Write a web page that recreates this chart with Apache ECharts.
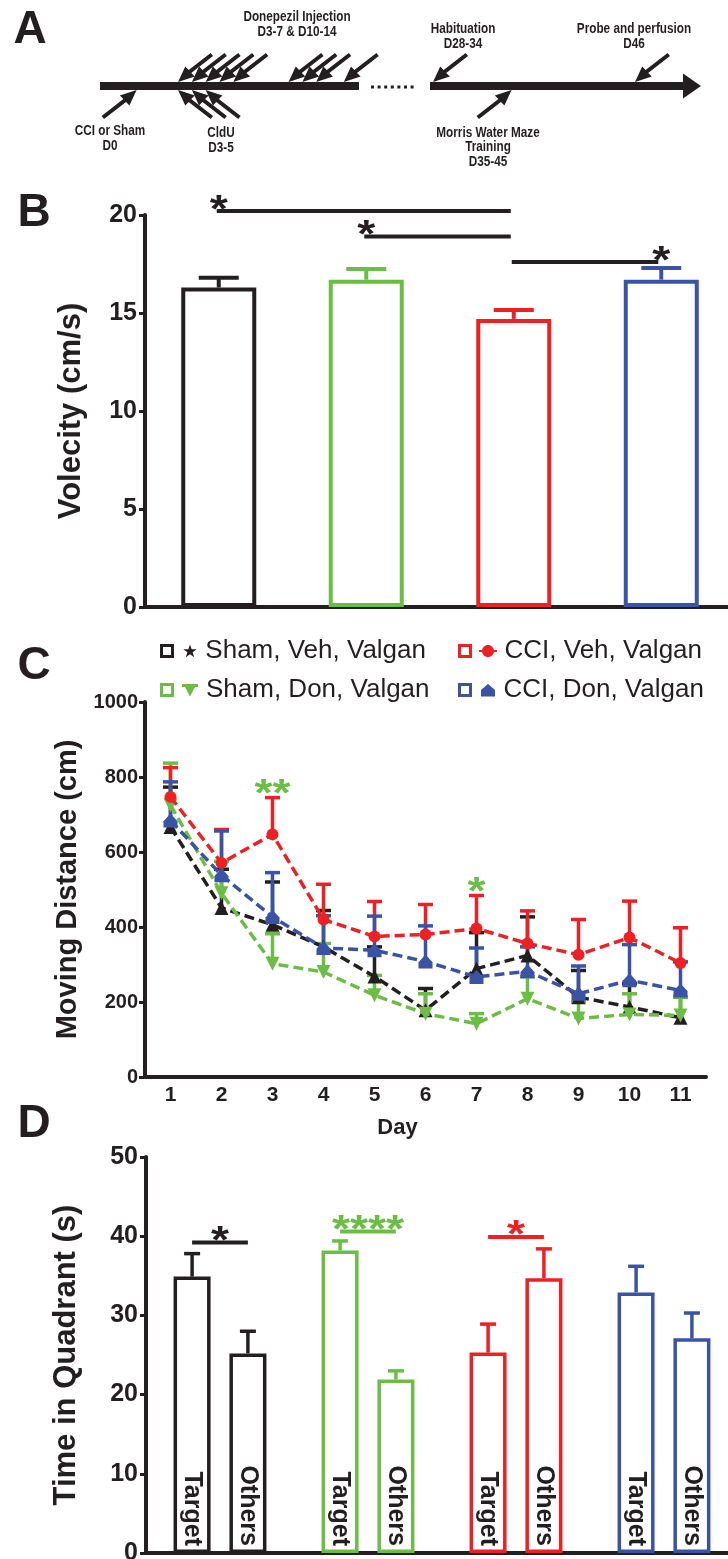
<!DOCTYPE html>
<html><head><meta charset="utf-8">
<script src="https://cdn.jsdelivr.net/npm/echarts/dist/echarts.min.js"></script>
<style>html,body{margin:0;padding:0;background:#fff}#c{width:728px;height:1559px}</style>
</head><body><div id="c"></div><script>
// ---------- DATA ----------
// Panel A: timeline events (days)
const injectionDays = [3, 4, 5, 6, 7, 11, 12, 13, 15];
const cldUDays = [3, 4, 5];
const surgeryDays = [0];
const habituationDays = [28];
const trainingDays = [35];
const probeDays = [46];

// Groups
const groups = ['Sham, Veh, Valgan', 'Sham, Don, Valgan', 'CCI, Veh, Valgan', 'CCI, Don, Valgan'];

// Panel B: velocity
const velocityMean = [16.3, 16.7, 14.7, 16.7];
const velocitySEM = [0.5, 0.55, 0.45, 0.6];
const sigB = [[0, 2, 20.2, 0], [1, 2, 18.9, 1], [2, 3, 17.6, 3]]; // from, to, y, star at

// Panel C: moving distance per day
const days = ['1', '2', '3', '4', '5', '6', '7', '8', '9', '10', '11'];
const shamVeh = [667, 451, 406, 347, 268, 178, 289, 324, 213, 187, 158];
const shamVehSEM = [106, 103, 114, 97, 79, 58, 96, 103, 71, 62, 55];
const shamDon = [725, 490, 302, 280, 218, 169, 142, 209, 156, 167, 164];
const shamDonSEM = [112, 85, 80, 76, 53, 53, 27, 58, 44, 55, 49];
const cciVeh = [747, 571, 647, 420, 375, 380, 396, 356, 326, 372, 304];
const cciVehSEM = [78, 89, 98, 94, 93, 80, 88, 87, 94, 97, 94];
const cciDon = [684, 538, 427, 344, 338, 308, 267, 282, 222, 258, 231];
const cciDonSEM = [103, 118, 118, 86, 91, 95, 77, 65, 74, 95, 76];
const sigCPos = [[2, 750], [6, 488]];
const sigCText = ['**', '*'];

// Panel D: time in quadrant
const quadrants = ['Target', 'Others'];
const targetTime = [34.9, 38.2, 25.3, 32.9];
const targetSEM = [2.9, 1.2, 3.6, 3.3];
const othersTime = [25.2, 21.9, 34.7, 27.1];
const othersSEM = [2.8, 1.1, 3.7, 3.2];
const sigDPos = [[0, 39.2], [1, 40.6], [2, 39.9]];
const sigDText = ['*', '****', '*'];

// ---------- STYLE ----------
const K = '#231f20';
const colors = ['#231f20', '#6cbd45', '#ed2024', '#3a53a4'];
const FF = "'Liberation Sans', Arial, Helvetica, sans-serif";

// arrow glyph (tip bottom-left), box 35 x 29
const arrowPts = [[0,29],[7.2,13.6],[10.6,17.0],[32.6,0],[35,2.9],[13.2,20.0],[16.8,23.6]];
function arrowPath(fx, fy) {
  return 'path://' + arrowPts.map((p, k) => (k ? 'L' : 'M') + (fx ? 35 - p[0] : p[0]).toFixed(2) + ',' + (fy ? 29 - p[1] : p[1]).toFixed(2)).join(' ') + ' Z';
}
const downLeft = arrowPath(false, false), upRight = arrowPath(true, true), upLeft = arrowPath(false, true);

function arrowSeries(daysArr, grid, sym, off) {
  return { type: 'scatter', xAxisIndex: grid, yAxisIndex: grid, data: daysArr.map(d => [d, 0]),
    symbol: sym, symbolSize: [35, 29], symbolOffset: off, itemStyle: { color: K, opacity: 1 }, silent: true, z: 5 };
}

const ring = 'M0,0 L14,0 L14,14 L0,14 Z M3,3 L3,11 L11,11 L11,3 Z ';
const icons = [
  'path://' + ring + 'M30,0.5 L31.65,5.23 L36.66,5.34 L32.66,8.37 L34.11,13.16 L30,10.3 L25.89,13.16 L27.34,8.37 L23.34,5.34 L28.35,5.23 Z',
  'path://' + ring + 'M22,1 L38,1 L38,4 L35,4 L30,13.5 L25,4 L22,4 Z',
  'path://' + ring + 'M36,7 C36,10.3 33.3,13 30,13 C26.7,13 24,10.3 24,7 C24,3.7 26.7,1 30,1 C33.3,1 36,3.7 36,7 Z M21,6 L39,6 L39,8 L21,8 Z',
  'path://' + ring + 'M30,1 L37,7 L37,13.5 L23,13.5 L23,7 Z'
];
const markerSyms = ['triangle', 'path://M0,0 L12,0 L6,11 Z', 'circle', 'path://M6,0 L12,6 L12,11 L0,11 L0,6 Z'];

function errRender(colorFn, capW, lw, dx) {
  return function (params, api) {
    const i = api.value(0), m = api.value(1), e = api.value(2);
    const p0 = api.coord([i, m]), p1 = api.coord([i, m + e]);
    const x = p0[0] + dx, c = colorFn(params.dataIndex);
    return { type: 'group', children: [
      { type: 'line', shape: { x1: x, y1: p0[1], x2: x, y2: p1[1] }, style: { stroke: c, lineWidth: lw } },
      { type: 'line', shape: { x1: x - capW / 2, y1: p1[1], x2: x + capW / 2, y2: p1[1] }, style: { stroke: c, lineWidth: lw } }
    ] };
  };
}
const starText = (x, y, t, c) => ({ type: 'text', x: x, y: y, scaleX: 1.22,
  style: { text: t, fill: c, fontSize: 38, fontWeight: 'bold', fontFamily: FF, align: 'center', verticalAlign: 'middle' } });

const series = [
  // Panel A
  arrowSeries(injectionDays, 0, downLeft, [17.5, -18.5]),
  arrowSeries(cldUDays, 0, upLeft, [17.5, 18.5]),
  arrowSeries(surgeryDays, 0, upRight, [-17.5, 18.5]),
  arrowSeries(habituationDays, 1, downLeft, [17.5, -18.5]),
  arrowSeries(trainingDays, 1, upRight, [-17.5, 18.5]),
  arrowSeries(probeDays, 1, downLeft, [17.5, -18.5]),
  // Panel B
  { type: 'bar', name: 'velocity', xAxisIndex: 2, yAxisIndex: 2, barWidth: 75,
    data: velocityMean.map((v, i) => ({ value: v, itemStyle: { borderColor: colors[i] } })),
    itemStyle: { color: '#fff', borderWidth: 4 }, silent: true },
  { type: 'custom', xAxisIndex: 2, yAxisIndex: 2, encode: { x: 0, y: 1 },
    data: velocityMean.map((m, i) => [i, m, velocitySEM[i]]),
    renderItem: errRender(i => colors[i], 40, 4, 0), silent: true },
  { type: 'custom', xAxisIndex: 2, yAxisIndex: 2, encode: { x: [0, 1], y: 2 }, data: sigB, silent: true, z: 6,
    renderItem: function (params, api) {
      const y = api.value(2);
      const p0 = api.coord([api.value(0), y]), p1 = api.coord([api.value(1), y]), ps = api.coord([api.value(3), y]);
      return { type: 'group', children: [
        { type: 'line', shape: { x1: p0[0] - 2, y1: p0[1], x2: p1[0] - 3, y2: p1[1] }, style: { stroke: K, lineWidth: 4 } },
        starText(ps[0], ps[1], '*', K)
      ] };
    } }
];

// Panel C
const cMeans = [shamVeh, shamDon, cciVeh, cciDon];
const cSEM = [shamVehSEM, shamDonSEM, cciVehSEM, cciDonSEM];
const cOrder = [3, 1, 2, 0];
cOrder.forEach(g => {
  series.push({ type: 'custom', xAxisIndex: 3, yAxisIndex: 3, encode: { x: 0, y: 1 }, silent: true, z: 2 + g * 0.1,
    data: cMeans[g].map((m, i) => [i, m, cSEM[g][i]]), renderItem: errRender(() => colors[g], 15, 3.5, 0) });
});
cOrder.forEach(g => {
  series.push({ type: 'line', name: groups[g], xAxisIndex: 3, yAxisIndex: 3, data: cMeans[g],
    symbol: markerSyms[g], symbolSize: g === 2 ? 12 : 14, itemStyle: { color: colors[g], borderWidth: 0 },
    lineStyle: { color: colors[g], width: 3.5, type: [10, 5] }, z: 3 + g * 0.1, silent: true });
});
series.push({ type: 'custom', xAxisIndex: 3, yAxisIndex: 3, encode: { x: 0, y: 1 }, data: sigCPos, silent: true, z: 6,
  renderItem: function (params, api) {
    const p = api.coord([api.value(0), api.value(1)]);
    return starText(p[0], p[1], sigCText[params.dataIndex], colors[1]);
  } });

// Panel D
const dOff = 27.9;
[[targetTime, quadrants[0]], [othersTime, quadrants[1]]].forEach(([vals, nm]) => {
  series.push({ type: 'bar', name: nm, xAxisIndex: 4, yAxisIndex: 4, barWidth: 37, barGap: '51%',
    data: vals.map((v, i) => ({ value: v, itemStyle: { borderColor: colors[i] } })),
    itemStyle: { color: '#fff', borderWidth: 3.5 }, silent: true,
    label: { show: true, position: 'insideBottom', rotate: -90, align: 'right', verticalAlign: 'middle', distance: 7,
      formatter: '{a}', fontSize: 25, fontWeight: 'bold', fontFamily: FF, color: K } });
});
[[targetTime, targetSEM, -dOff], [othersTime, othersSEM, dOff]].forEach(([vals, sem, dx]) => {
  series.push({ type: 'custom', xAxisIndex: 4, yAxisIndex: 4, encode: { x: 0, y: 1 }, silent: true, z: 3,
    data: vals.map((m, i) => [i, m, sem[i]]), renderItem: errRender(i => colors[i], 16, 3.5, dx) });
});
series.push({ type: 'custom', xAxisIndex: 4, yAxisIndex: 4, encode: { x: 0, y: 1 }, data: sigDPos, silent: true, z: 6,
  renderItem: function (params, api) {
    const p = api.coord([api.value(0), api.value(1)]);
    const c = colors[params.dataIndex];
    return { type: 'group', children: [
      { type: 'line', shape: { x1: p[0] - dOff, y1: p[1], x2: p[0] + dOff, y2: p[1] }, style: { stroke: c, lineWidth: 4 } },
      starText(p[0], p[1], sigDText[params.dataIndex], c)
    ] };
  } });

const axisLab = (fs) => ({ fontSize: fs, fontWeight: 'bold', fontFamily: FF, color: K });
const hiddenVal = (g, min, max) => ({ type: 'value', gridIndex: g, min: min, max: max, show: false });

function legendAt(i, left, top) {
  return { data: [{ name: groups[i], icon: icons[i] }], left: left, top: top, itemWidth: 40, itemHeight: 14,
    itemGap: 0, selectedMode: false, padding: 0, itemStyle: { borderWidth: 0 },
    textStyle: { fontSize: 26, color: K, fontFamily: FF, padding: [0, 0, 0, 2] } };
}

const textG = (x, y, t, fs, lh, sx) => ({ type: 'text', x: x, y: y, silent: true, scaleX: sx || 1,
  style: { text: t, fontSize: fs, fontWeight: 'bold', fontFamily: FF, fill: K, align: 'center', verticalAlign: 'middle', lineHeight: lh || fs } });

const gridBase = { outerBoundsMode: 'none', containLabel: false };
const option = {
  animation: false,
  backgroundColor: '#fff',
  grid: [
    Object.assign({ left: 100, top: 76, width: 259, height: 20 }, gridBase),
    Object.assign({ left: 430, top: 76, width: 262, height: 20 }, gridBase),
    Object.assign({ left: 145, top: 215, width: 590, height: 392 }, gridBase),
    Object.assign({ left: 145, top: 702, width: 561, height: 375 }, gridBase),
    Object.assign({ left: 146, top: 1157, width: 592, height: 396 }, gridBase)
  ],
  xAxis: [
    { type: 'value', gridIndex: 0, min: -2.65, max: 16.1, axisLine: { show: true, onZero: true, lineStyle: { color: K, width: 8, cap: 'butt' } },
      axisTick: { show: false }, axisLabel: { show: false }, splitLine: { show: false } },
    { type: 'value', gridIndex: 1, min: 27.73, max: 51.08, axisLine: { show: true, onZero: true, symbol: ['none', 'triangle'], symbolSize: [25, 18], lineStyle: { color: K, width: 8, cap: 'butt' } },
      axisTick: { show: false }, axisLabel: { show: false }, splitLine: { show: false } },
    { type: 'category', gridIndex: 2, data: groups, axisLine: { lineStyle: { color: K, width: 4 } }, axisTick: { show: false }, axisLabel: { show: false } },
    { type: 'category', gridIndex: 3, data: days, name: 'Day', nameLocation: 'middle', nameGap: 40,
      nameTextStyle: { fontSize: 22, fontWeight: 'bold', fontFamily: FF, color: K, padding: [0, 56, 0, 0] },
      axisLine: { lineStyle: { color: K, width: 4 } }, axisTick: { alignWithLabel: true, length: 6, lineStyle: { width: 3, color: K } },
      axisLabel: Object.assign(axisLab(21), { margin: 8 }) },
    { type: 'category', gridIndex: 4, data: groups, axisLine: { lineStyle: { color: K, width: 4 } }, axisTick: { show: false }, axisLabel: { show: false } }
  ],
  yAxis: [
    hiddenVal(0, -1, 1), hiddenVal(1, -1, 1),
    { type: 'value', gridIndex: 2, min: 0, max: 20, interval: 5, name: 'Volecity (cm/s)', nameLocation: 'middle', nameGap: 58,
      nameTextStyle: { fontSize: 31, fontWeight: 'bold', fontFamily: FF, color: K },
      axisLine: { show: true, lineStyle: { color: K, width: 4 } }, axisTick: { show: true, length: 6, lineStyle: { width: 3, color: K } },
      axisLabel: Object.assign(axisLab(25), { margin: 8 }), splitLine: { show: false } },
    { type: 'value', gridIndex: 3, min: 0, max: 1000, interval: 200, name: 'Moving Distance (cm)', nameLocation: 'middle', nameGap: 58,
      nameTextStyle: { fontSize: 29, fontWeight: 'bold', fontFamily: FF, color: K },
      axisLine: { show: true, lineStyle: { color: K, width: 4 } }, axisTick: { show: true, length: 6, lineStyle: { width: 3, color: K } },
      axisLabel: Object.assign(axisLab(20), { margin: 7, formatter: v => String(v) }), splitLine: { show: false } },
    { type: 'value', gridIndex: 4, min: 0, max: 50, interval: 10, name: 'Time in Quadrant (s)', nameLocation: 'middle', nameGap: 64,
      nameTextStyle: { fontSize: 31, fontWeight: 'bold', fontFamily: FF, color: K },
      axisLine: { show: true, lineStyle: { color: K, width: 4 } }, axisTick: { show: true, length: 6, lineStyle: { width: 3, color: K } },
      axisLabel: Object.assign(axisLab(25), { margin: 8 }), splitLine: { show: false } }
  ],
  legend: [legendAt(0, 160, 638), legendAt(2, 458, 638), legendAt(1, 160, 677), legendAt(3, 458, 677)],
  graphic: [
    textG(30, 30, 'A', 46), textG(34, 213, 'B', 46), textG(34, 666, 'C', 46), textG(34, 1124, 'D', 46),
    textG(297, 24.5, 'Donepezil Injection\nD3-7 & D10-14', 14, 15, 0.84),
    textG(463, 36.5, 'Habituation\nD28-34', 14, 15, 0.84),
    textG(634, 37, 'Probe and perfusion\nD46', 14, 15, 0.84),
    textG(110, 138.5, 'CCI or Sham\nD0', 14, 15, 0.84),
    textG(221, 140.5, 'CldU\nD3-5', 14, 15, 0.84),
    textG(488, 147.5, 'Morris Water Maze\nTraining\nD35-45', 14, 14.5, 0.84),
    { type: 'line', silent: true, shape: { x1: 371, y1: 87, x2: 416, y2: 87 }, style: { stroke: K, lineWidth: 3, lineDash: [3, 3.6] } }
  ],
  series: series
};
echarts.init(document.getElementById('c'), null, { renderer: 'canvas' }).setOption(option);
</script></body></html>
